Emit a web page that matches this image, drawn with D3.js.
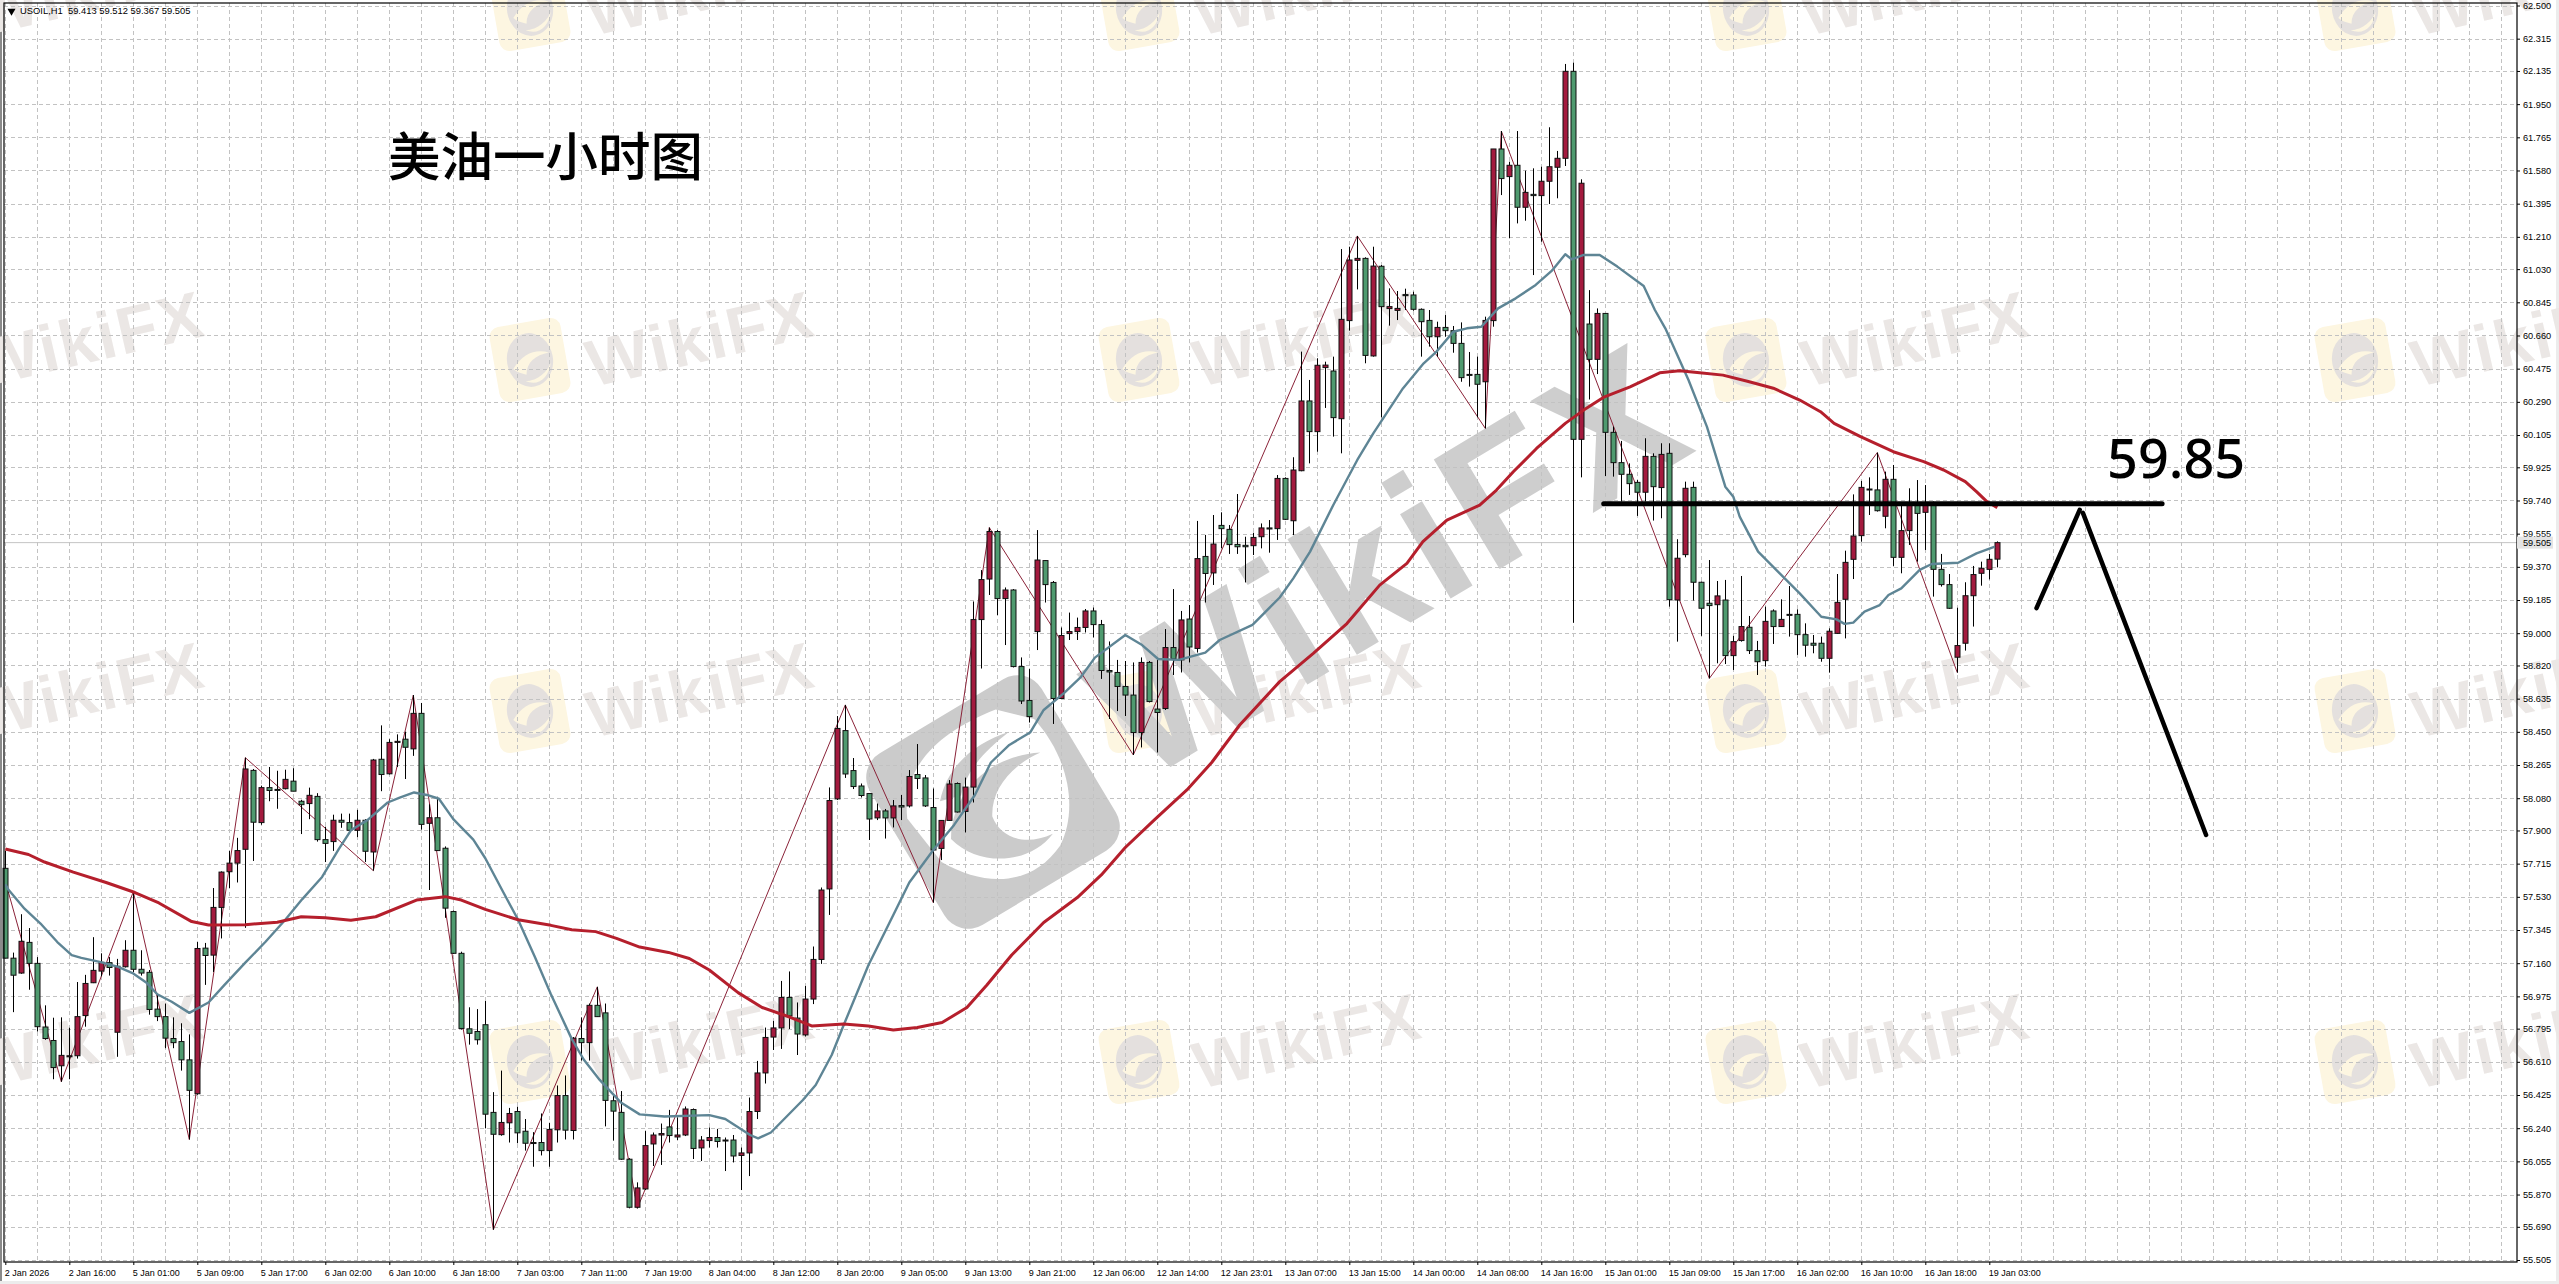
<!DOCTYPE html>
<html><head><meta charset="utf-8">
<script src="https://cdn.jsdelivr.net/npm/d3@7/dist/d3.min.js"></script>
<style>
html,body{margin:0;padding:0;background:#fff}
svg{display:block}
text{font-family:"Liberation Sans",Arial,sans-serif}
</style></head><body>
<svg id="c" width="2559" height="1284"></svg>
<script>
const bodyTops=[
57.689,57.188,57.282,57.276,57.159,56.804,56.729,56.646,56.644,56.862,
57.047,57.120,57.165,57.163,57.143,57.232,57.232,57.126,57.109,56.904,
56.862,56.740,56.723,56.621,57.242,57.244,57.471,57.668,57.718,57.788,
58.243,58.235,58.139,58.139,58.129,58.185,58.175,58.063,58.096,58.090,
57.849,57.957,57.957,57.944,57.957,57.957,58.293,58.297,58.391,58.397,
58.409,58.553,58.553,57.971,57.971,57.801,57.448,57.215,56.794,56.779,
56.817,56.328,56.272,56.322,56.333,56.223,56.160,56.160,56.233,56.422,
56.422,56.742,56.740,56.925,56.925,56.883,56.393,56.328,56.067,55.907,
56.143,56.202,56.210,56.247,56.202,56.347,56.344,56.174,56.188,56.188,
56.174,56.174,56.102,56.333,56.548,56.746,56.799,56.969,56.969,56.854,
56.960,57.181,57.568,58.067,58.469,58.457,58.234,58.148,58.106,58.009,
58.009,58.037,58.039,58.201,58.212,58.193,58.028,57.956,58.159,58.162,
58.142,59.076,59.299,59.567,59.567,59.241,59.241,58.814,58.625,59.408,
59.405,59.283,58.987,59.009,59.032,59.124,59.124,59.048,58.792,58.781,
58.703,58.655,58.837,58.837,58.577,58.920,58.920,59.074,59.079,59.416,
59.428,59.497,59.601,59.579,59.495,59.490,59.534,59.587,59.587,59.863,
59.863,59.910,60.295,60.295,60.494,60.495,60.462,60.750,61.081,61.090,
61.090,61.047,61.046,60.821,60.811,60.888,60.886,60.806,60.744,60.705,
60.705,60.687,60.616,60.443,60.443,60.744,61.700,61.700,61.609,61.609,
61.458,61.447,61.520,61.601,61.648,62.133,62.133,61.509,60.724,60.783,
60.783,60.120,59.951,59.886,59.841,59.986,59.986,59.997,60.003,59.418,
59.808,59.813,59.284,59.167,59.208,59.185,58.953,59.037,59.033,58.903,
59.066,59.124,59.077,59.105,59.105,58.992,58.944,58.944,59.011,59.172,
59.395,59.542,59.813,59.804,59.799,59.858,59.858,59.572,59.715,59.715,
59.715,59.720,59.356,59.271,58.931,59.209,59.327,59.362,59.412,59.505];
const bodyBottoms=[
57.188,57.093,57.105,57.159,56.806,56.740,56.578,56.588,56.638,56.644,
56.868,57.051,57.116,57.136,56.775,57.140,57.126,57.105,56.902,56.862,
56.742,56.717,56.621,56.451,56.432,57.203,57.205,57.471,57.670,57.718,
57.795,57.946,57.944,58.123,58.125,58.133,58.119,58.044,58.050,57.849,
57.828,57.838,57.946,57.901,57.901,57.784,57.780,58.212,58.216,58.391,
58.364,58.355,57.934,57.940,57.788,57.467,57.215,56.796,56.769,56.733,
56.318,56.206,56.204,56.270,56.214,56.156,56.156,56.115,56.115,56.231,
56.229,56.227,56.717,56.717,56.862,56.395,56.335,56.067,55.799,55.799,
55.901,56.152,56.202,56.199,56.191,56.202,56.127,56.130,56.171,56.166,
56.169,56.085,56.088,56.102,56.333,56.548,56.748,56.799,56.866,56.765,
56.760,56.960,57.181,57.574,58.076,58.215,58.145,58.095,57.964,57.970,
57.970,57.970,58.031,58.037,58.190,58.037,57.791,57.800,57.956,58.003,
58.006,58.142,59.076,59.302,59.193,59.193,58.814,58.622,58.535,59.009,
59.271,58.636,58.636,58.998,59.009,59.032,59.048,58.792,58.784,58.703,
58.655,58.446,58.446,58.619,58.558,58.580,58.856,58.851,58.923,58.915,
59.333,59.336,59.583,59.494,59.482,59.482,59.488,59.538,59.581,59.583,
59.635,59.627,59.906,60.124,60.124,60.481,60.202,60.196,60.743,61.079,
60.549,60.546,60.821,60.810,60.800,60.882,60.806,60.737,60.653,60.653,
60.687,60.616,60.425,60.441,60.388,60.402,60.743,61.535,61.546,61.375,
61.375,61.440,61.440,61.520,61.598,61.648,60.081,60.081,60.527,60.527,
60.120,59.951,59.886,59.834,59.786,59.786,59.817,59.812,59.187,59.185,
59.438,59.284,59.139,59.154,59.159,58.875,58.875,58.959,58.903,58.841,
58.847,59.037,59.037,59.102,58.992,58.933,58.933,58.860,58.860,58.999,
59.189,59.412,59.544,59.800,59.683,59.652,59.423,59.423,59.572,59.668,
59.674,59.356,59.271,59.139,58.866,58.944,59.209,59.334,59.356,59.413];
const highs=[
57.786,57.219,57.433,57.356,57.194,56.925,56.856,56.858,56.800,57.055,
57.095,57.305,57.215,57.194,57.184,57.288,57.558,57.232,57.122,56.987,
56.935,56.858,56.825,56.763,57.278,57.273,57.579,57.672,57.786,57.859,
58.306,58.243,58.150,58.254,58.233,58.239,58.247,58.071,58.139,58.108,
57.921,57.988,57.994,57.994,58.015,57.963,58.299,58.486,58.409,58.436,
58.451,58.655,58.611,58.046,58.088,57.811,57.454,57.224,56.914,56.904,
56.949,56.441,56.561,56.353,56.360,56.291,56.218,56.322,56.270,56.478,
56.534,56.748,56.858,56.935,57.028,56.935,56.426,56.447,56.073,55.938,
56.224,56.216,56.266,56.342,56.300,56.361,56.350,56.196,56.244,56.236,
56.188,56.202,56.132,56.411,56.615,56.801,56.838,57.061,57.114,56.941,
57.033,57.253,57.582,58.140,58.538,58.600,58.304,58.162,58.106,58.050,
58.020,58.070,58.098,58.237,58.382,58.209,58.134,57.958,58.181,58.168,
58.195,59.177,59.352,59.589,59.575,59.255,59.246,58.865,58.800,59.575,
59.408,59.291,59.032,59.115,59.087,59.135,59.143,59.074,58.954,58.851,
58.845,58.837,58.865,58.845,58.851,59.023,59.246,59.124,59.157,59.626,
59.548,59.659,59.674,59.603,59.776,59.538,59.560,59.612,59.631,59.882,
59.869,59.981,60.570,60.412,60.533,60.514,60.542,61.142,61.155,61.215,
61.096,61.155,61.053,60.923,60.908,60.921,60.904,60.811,60.802,60.737,
60.774,60.713,60.733,60.568,60.542,60.765,61.700,61.800,61.629,61.800,
61.579,61.592,61.601,61.821,61.689,62.174,62.181,61.531,60.913,60.811,
60.783,60.152,60.072,59.947,59.854,60.087,60.003,60.059,60.059,59.524,
59.845,59.845,59.288,59.408,59.291,59.297,58.985,59.319,59.096,58.957,
59.148,59.133,59.189,59.263,59.133,59.055,58.990,58.981,59.027,59.330,
59.460,59.774,59.849,59.869,60.007,59.901,59.938,59.715,59.808,59.854,
59.826,59.734,59.442,59.330,59.142,59.284,59.375,59.399,59.442,59.512];
const lows=[
57.188,56.887,57.101,57.012,56.779,56.733,56.513,56.499,56.513,56.628,
56.806,57.049,57.087,57.091,56.638,57.136,57.111,57.091,56.873,56.837,
56.686,56.686,56.561,56.177,56.426,57.039,57.111,57.298,57.579,57.610,
57.357,57.730,57.932,58.063,58.021,58.129,58.119,57.880,57.963,57.838,
57.724,57.786,57.915,57.896,57.863,57.724,57.676,58.119,58.212,58.254,
58.187,58.316,57.905,57.568,57.786,57.413,57.211,56.790,56.706,56.706,
56.239,55.674,56.198,56.160,56.156,56.115,56.025,56.088,56.025,56.160,
56.177,56.177,56.617,56.617,56.862,56.250,56.171,56.063,55.793,55.793,
55.895,56.029,56.035,56.160,56.174,56.196,56.068,56.057,56.132,56.132,
56.001,56.049,55.895,55.973,56.291,56.489,56.676,56.682,56.793,56.648,
56.751,56.932,57.156,57.429,58.070,58.193,58.131,58.084,57.847,57.958,
57.855,57.917,57.958,58.028,58.131,58.031,57.498,57.735,57.953,58.000,
57.889,58.056,58.803,59.213,59.101,58.934,58.809,58.605,58.502,58.906,
59.171,58.494,58.633,58.962,58.962,59.004,58.976,58.745,58.522,58.566,
58.538,58.321,58.363,58.614,58.335,58.572,58.767,58.781,58.837,58.892,
59.171,59.269,59.473,59.442,59.442,59.283,59.436,59.473,59.449,59.520,
59.631,59.547,59.903,59.947,60.012,60.256,60.096,60.003,60.687,60.917,
60.505,60.542,60.204,60.715,60.746,60.802,60.798,60.542,60.598,60.542,
60.653,60.564,60.402,60.375,60.204,60.142,60.709,61.443,61.202,61.285,
61.300,60.997,61.183,61.393,61.425,61.605,59.058,59.869,60.303,60.445,
59.876,59.873,59.734,59.771,59.654,59.734,59.628,59.641,59.148,58.953,
59.423,59.182,58.985,58.748,58.832,58.828,58.795,58.953,58.884,58.767,
58.814,58.940,59.035,58.981,58.879,58.869,58.888,58.841,58.780,58.996,
58.971,59.302,59.510,59.659,59.678,59.585,59.375,59.334,59.492,59.399,
59.464,59.204,59.260,59.135,58.780,58.903,59.037,59.265,59.300,59.367];
const directions=("ggrggggrrr"+"rrrgrrgggg"+"ggggrgrrrr"+"rgrggrggrg"+"grggrgrgrr"+
"grgrgggggg"+"ggrrggggrr"+"grgrgggggr"+"rrrgrrgrrg"+"ggrrrrrrgg"+
"rrrrrggggr"+"grgrgggrrg"+"rrrrgrgggr"+"ggrrrrgggg"+"ggrggrgrgr"+
"grggggrrgr"+"grrgrrgrrr"+"grgrrggggr"+"gggggrrgrg"+"rgrrrrgrgr"+
"gggggrgrgr"+"rgggrgrrgg"+"rgrgggggrr"+"rrrggrgrrg"+"rgggrrrrrr").split("");

const fastMaIndex=[0,0.35,2.4,4.4,6.5,8.3,9.5,11.8,14.1,15.9,17.7,19,20.8,23,25.4,27.4,30,32.5,35,37.1,39.6,41.7,43.2,45.3,47.8,49.3,51.1,52.7,54.2,56,58.5,60,62.1,64.1,66.2,68.2,70.8,72.3,74.3,76.9,79.3,82.4,88,90,93.1,94.1,95.7,99.7,101.3,103.3,104.8,107.9,111,113,116,118.6,121.2,123.2,125.5,128.1,129.8,132.4,134.4,136.2,140,142.1,144.1,146.7,150,151.8,155.9,159.3,161,163.1,166,169,171,174.7,177.3,178.9,181,182.7,184.5,186.6,188.8,191.3,193.4,195,195.8,197.3,199.3,201.5,204.8,206.2,207.5,210.4,212.7,215,216,216.8,219.1,221.8,224.3,227,228.9,229.9,231,232.4,234.3,235.4,237,239.3,240.8,244.1,246.4,248.7];
const fastMaPrice=[57.60,57.572,57.464,57.381,57.278,57.205,57.190,57.167,57.139,57.105,57.049,56.987,56.945,56.883,56.941,57.039,57.163,57.278,57.402,57.516,57.641,57.797,57.901,57.959,58.056,58.083,58.112,58.098,58.077,57.963,57.849,57.745,57.568,57.402,57.194,56.987,56.738,56.623,56.509,56.385,56.317,56.305,56.313,56.291,56.202,56.183,56.216,56.397,56.481,56.648,56.815,57.150,57.429,57.610,57.791,57.931,58.098,58.279,58.377,58.446,58.572,58.669,58.753,58.864,58.990,58.934,58.856,58.851,58.892,58.962,59.046,59.199,59.306,59.455,59.715,59.966,60.114,60.365,60.505,60.570,60.681,60.700,60.709,60.811,60.867,60.942,61.025,61.113,61.085,61.109,61.109,61.044,60.936,60.802,60.700,60.412,60.152,59.817,59.761,59.650,59.455,59.334,59.222,59.092,59.077,59.052,59.059,59.120,59.157,59.213,59.250,59.353,59.386,59.393,59.445,59.483];

const slowMaIndex=[0,2.9,4.9,8.5,12.6,16.2,19.2,23.3,25.4,30,34,37,40,43.2,46.3,51.4,55,57,60,64.1,68.2,70.8,73.8,76.4,79.3,82.9,85.5,88,91.6,94.6,98.2,100.8,104.8,107.9,111,114,117.1,120.2,122.7,125.8,129.8,134,137,140,143.6,147.7,150.8,154.3,159.3,163.5,167.7,171.8,175.2,177.2,180.2,184.3,186.4,188.5,191.4,195,197.3,199.9,203.1,206.8,209.3,211.8,214.7,218,221,224.3,226.9,228.6,231.9,236,239.8,242.3,245,246.4,247.7,249];
const slowMaPrice=[57.797,57.766,57.724,57.668,57.610,57.554,57.496,57.392,57.373,57.375,57.388,57.419,57.413,57.400,57.419,57.512,57.531,57.512,57.460,57.402,57.371,57.346,57.336,57.298,57.250,57.220,57.186,57.122,56.996,56.913,56.857,56.810,56.821,56.810,56.788,56.801,56.829,56.913,57.038,57.206,57.387,57.526,57.652,57.805,57.958,58.126,58.279,58.488,58.730,58.887,59.054,59.268,59.389,59.510,59.631,59.714,59.798,59.900,60.030,60.170,60.244,60.318,60.374,60.452,60.463,60.452,60.439,60.402,60.366,60.300,60.235,60.170,60.096,60.012,59.957,59.910,59.845,59.789,59.734,59.700];

const zigzagIndex=[0.3,7,16,23,30,46,51,61,74,79,105,116,123,141,169,185,187,213,234,244];
const zigzagPrice=[57.57,56.499,57.558,56.177,58.306,57.676,58.655,55.674,57.028,55.793,58.600,57.498,59.589,58.321,61.215,60.142,61.800,58.748,60.007,58.780];

const yTickLabels=[62.500,62.315,62.135,61.950,61.765,61.580,61.395,61.210,61.030,60.845,60.660,60.475,60.290,60.105,59.925,59.740,59.555,59.370,59.185,59.000,58.820,58.635,58.450,58.265,58.080,57.900,57.715,57.530,57.345,57.160,56.975,56.795,56.610,56.425,56.240,56.055,55.870,55.690,55.505];
const timeLabels=["2 Jan 2026","2 Jan 16:00","5 Jan 01:00","5 Jan 09:00","5 Jan 17:00","6 Jan 02:00","6 Jan 10:00","6 Jan 18:00","7 Jan 03:00","7 Jan 11:00","7 Jan 19:00","8 Jan 04:00","8 Jan 12:00","8 Jan 20:00","9 Jan 05:00","9 Jan 13:00","9 Jan 21:00","12 Jan 06:00","12 Jan 14:00","12 Jan 23:01","13 Jan 07:00","13 Jan 15:00","14 Jan 00:00","14 Jan 08:00","14 Jan 16:00","15 Jan 01:00","15 Jan 09:00","15 Jan 17:00","16 Jan 02:00","16 Jan 10:00","16 Jan 18:00","19 Jan 03:00"];

const lastPrice=59.505;
const resistancePrice=59.722, resistanceFrom=199.8, resistanceTo=269.6;
const arrowUpIndex=[253.9,259.3], arrowUpPrice=[59.140,59.688];
const arrowDownIndex=[259.7,275.1], arrowDownPrice=[59.671,57.875];

const svg=d3.select("#c");
const x=d3.scaleLinear().domain([0,249]).range([5.3,1997.3]);
const y=d3.scaleLinear().domain([55.505,62.5]).range([1260,5.5]);
const L=4,R=2517,T=3,B=1262;

// page chrome
svg.append("rect").attr("width",2559).attr("height",1284).attr("fill","#fff");
svg.append("rect").attr("x",0).attr("y",0).attr("width",2).attr("height",1284).attr("fill","#8a8a8a");
svg.append("rect").attr("x",2556).attr("y",0).attr("width",3).attr("height",1284).attr("fill","#ececec");
svg.append("rect").attr("x",0).attr("y",1281).attr("width",2559).attr("height",3).attr("fill","#ececec");

// watermarks
const wm=svg.append("g");
const rows=[-13,338,689,1040];
const wordX=[90,700,1307,1915,2525], logoX=[-75,530,1139,1746,2355];
rows.forEach(ry=>{
  wordX.forEach(wx=>{
    wm.append("text").attr("transform",`translate(${wx},${ry}) rotate(-13)`)
      .attr("text-anchor","middle").attr("dy","0.36em")
      .attr("font-size",66).attr("font-weight",700).attr("letter-spacing",2)
      .attr("fill","#ebe7e5").text("WikiFX");
  });
  logoX.forEach(lx=>{
    const g=wm.append("g").attr("transform",`translate(${lx},${ry+22}) rotate(-10)`);
    g.append("rect").attr("x",-36).attr("y",-38).attr("width",72).attr("height",76).attr("rx",10).attr("fill","#fdf6e1");
    g.append("ellipse").attr("rx",23).attr("ry",27).attr("fill","#e4e0de");
    g.append("path").attr("d","M-18,6 C-6,-8 8,-10 20,-4 C6,-4 -4,2 -6,14 C-10,12 -15,10 -18,6Z").attr("fill","#fdf6e1");
    g.append("path").attr("d","M-8,20 C4,22 16,14 20,6 C16,20 4,28 -8,20Z").attr("fill","#fdf6e1");
  });
});
// large central watermark
const big=wm.append("g").attr("transform","translate(993,802) rotate(-31)");
big.append("rect").attr("x",-100).attr("y",-100).attr("width",200).attr("height",200).attr("rx",28).attr("fill","#cbcbcb");
big.append("path").attr("d","M-82,-30 C-60,-78 -10,-88 50,-78 L78,-50 C88,0 70,50 35,72 C-10,92 -50,70 -75,25 Z").attr("fill","#fff");
big.append("path").attr("d","M-55,10 C-30,-30 20,-42 66,-18 C35,-22 5,-12 -8,12 C-12,35 5,55 35,58 C0,72 -45,50 -55,10 Z").attr("fill","#cbcbcb");
big.append("path").attr("d","M-45,-28 C-20,-55 15,-60 50,-52 C20,-48 -5,-42 -24,-22 Z").attr("fill","#cbcbcb");
wm.append("text").attr("transform","translate(1388,558) rotate(-31)")
  .attr("text-anchor","middle").attr("dy","0.36em")
  .attr("font-size",186).attr("font-weight",700).attr("letter-spacing",6)
  .attr("fill","#cecece").text("WikiFX");

// grid
const grid=svg.append("g").attr("stroke","#c2c2c2").attr("stroke-width",1).attr("stroke-dasharray","4,3").attr("fill","none");
grid.selectAll("line.h").data(yTickLabels).join("line").attr("class","h")
  .attr("x1",L).attr("x2",R).attr("y1",d=>Math.round(y(d))+.5).attr("y2",d=>Math.round(y(d))+.5);
grid.selectAll("line.v").data(d3.range(0,313,4)).join("line").attr("class","v")
  .attr("x1",d=>Math.round(x(d))+.5).attr("x2",d=>Math.round(x(d))+.5).attr("y1",T).attr("y2",B);

// last-price line
svg.append("line").attr("x1",L).attr("x2",R).attr("y1",y(lastPrice)).attr("y2",y(lastPrice)).attr("stroke","#c4c4c4").attr("stroke-width",1);

// zigzag (under candles)
const line=d3.line().x(d=>x(d[0])).y(d=>y(d[1]));
svg.append("path").attr("d",line(d3.zip(zigzagIndex,zigzagPrice))).attr("fill","none").attr("stroke","#8a2238").attr("stroke-width",1);

// candles
const candles=svg.append("g").selectAll("g").data(d3.range(250)).join("g");
candles.append("line").attr("x1",i=>Math.round(x(i))+.5).attr("x2",i=>Math.round(x(i))+.5)
  .attr("y1",i=>y(highs[i])).attr("y2",i=>y(lows[i])).attr("stroke","#000").attr("stroke-width",1);
candles.append("rect").attr("x",i=>Math.round(x(i))-2).attr("width",5)
  .attr("y",i=>y(bodyTops[i])).attr("height",i=>Math.max(1,y(bodyBottoms[i])-y(bodyTops[i])))
  .attr("fill",i=>directions[i]==="r"?"#a31a3e":"#4f9a6f").attr("stroke","#111").attr("stroke-width",1);

svg.append("path").attr("d",line(d3.zip(fastMaIndex,fastMaPrice))).attr("fill","none").attr("stroke","#5e8595").attr("stroke-width",2.4).attr("stroke-linejoin","round");
svg.append("path").attr("d",line(d3.zip(slowMaIndex,slowMaPrice))).attr("fill","none").attr("stroke","#b51f2c").attr("stroke-width",3).attr("stroke-linejoin","round");

// annotations
const ann=svg.append("g").attr("fill","none").attr("stroke","#000").attr("stroke-linecap","round");
ann.append("line").attr("x1",x(resistanceFrom)).attr("x2",x(resistanceTo)).attr("y1",y(resistancePrice)).attr("y2",y(resistancePrice)).attr("stroke-width",5);
ann.append("path").attr("d",line(d3.zip(arrowUpIndex,arrowUpPrice))).attr("stroke-width",4.5);
ann.append("path").attr("d",line(d3.zip(arrowDownIndex,arrowDownPrice))).attr("stroke-width",4.5);
svg.append("text").attr("x",2107).attr("y",478).attr("font-size",54).attr("font-weight",500).attr("style",'font-family:"Noto Sans"').attr("fill","#000").text("59.85");
svg.append("text").attr("x",388).attr("y",176).attr("font-size",52.5).attr("font-weight",500).attr("style",'font-family:"Noto Sans CJK SC"').attr("fill","#000").text("美油一小时图");

// frame
svg.append("rect").attr("x",L).attr("y",T).attr("width",R-L).attr("height",B-T).attr("fill","none").attr("stroke","#000").attr("stroke-width",1.2);

// axes
const yAxis=d3.axisRight(y).tickValues(yTickLabels).tickFormat(d3.format(".3f")).tickSize(3).tickPadding(3);
const ya=svg.append("g").attr("transform",`translate(${R},0)`).call(yAxis);
ya.select(".domain").remove();
ya.selectAll("text").attr("font-size",9.2).attr("fill","#000").style("font-family",'"Liberation Sans"');
ya.selectAll("line").attr("stroke","#000");

const xAxis=d3.axisBottom(x).tickValues(timeLabels.map((_,k)=>k*8)).tickFormat((_,k)=>timeLabels[k]).tickSize(3).tickPadding(5);
const xa=svg.append("g").attr("transform",`translate(0,${B})`).call(xAxis);
xa.select(".domain").remove();
xa.selectAll("text").attr("font-size",9).attr("fill","#000").attr("text-anchor","start").attr("dx",-1).style("font-family",'"Liberation Sans"');
xa.selectAll("line").attr("stroke","#000");

// last price tag
svg.append("rect").attr("x",R).attr("y",y(lastPrice)-6).attr("width",36).attr("height",12).attr("fill","#e4e4e4");
svg.append("text").attr("x",R+6).attr("y",y(lastPrice)+3.2).attr("font-size",9.2).attr("fill","#000").text(d3.format(".3f")(lastPrice));

// header
svg.append("path").attr("d",d3.symbol(d3.symbolTriangle,28)()).attr("transform","translate(11.5,11) rotate(180)").attr("fill","#000");
svg.append("text").attr("x",20).attr("y",14).attr("font-size",9.4).attr("fill","#000").attr("xml:space","preserve").text("USOIL,H1  59.413 59.512 59.367 59.505");
</script>
</body></html>
